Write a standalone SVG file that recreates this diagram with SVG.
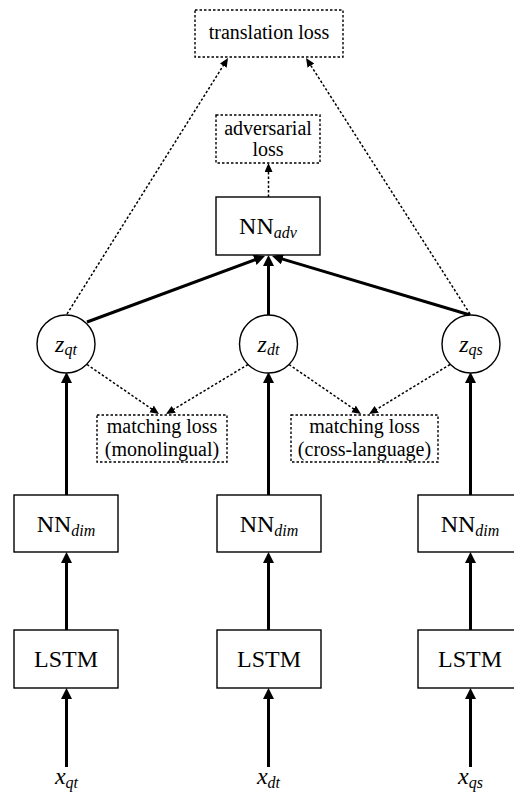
<svg xmlns="http://www.w3.org/2000/svg" width="514" height="793" viewBox="0 0 514 793">
<style>
.box{fill:#fff;stroke:#000;stroke-width:1.4}
.dbox{fill:#fff;stroke:#000;stroke-width:1.4;stroke-dasharray:2.5 2}
.t{font-family:"Liberation Serif","Times New Roman",serif;fill:#000;text-anchor:middle}
.big{font-size:24px}
.mid{font-size:20px}
.it{font-style:italic}
.sub{font-size:16px;font-style:italic}
.thick{stroke:#000;stroke-width:3;fill:none}
.dot{stroke:#000;stroke-width:1.5;fill:none;stroke-dasharray:2.5 2}
</style>
<defs>
<marker id="ah" markerUnits="userSpaceOnUse" markerWidth="12" markerHeight="12" refX="6" refY="5.5" orient="auto">
<path d="M0,0 L11,5.5 L0,11 z" fill="#000"/>
</marker>
<marker id="ahd" markerUnits="userSpaceOnUse" markerWidth="10" markerHeight="10" refX="5" refY="4" orient="auto">
<path d="M0,0 L9,4 L0,8 z" fill="#000"/>
</marker>
</defs>
<rect width="514" height="793" fill="#fff"/>
<g id="connectors">
<line class="thick" x1="66.5" y1="767" x2="66.5" y2="693" marker-end="url(#ah)"/>
<line class="thick" x1="268.5" y1="767" x2="268.5" y2="693" marker-end="url(#ah)"/>
<line class="thick" x1="470.5" y1="767" x2="470.5" y2="693" marker-end="url(#ah)"/>
<line class="thick" x1="66.5" y1="630" x2="66.5" y2="557" marker-end="url(#ah)"/>
<line class="thick" x1="268.5" y1="630" x2="268.5" y2="557" marker-end="url(#ah)"/>
<line class="thick" x1="470.5" y1="630" x2="470.5" y2="557" marker-end="url(#ah)"/>
<line class="thick" x1="66.5" y1="495" x2="66.5" y2="377" marker-end="url(#ah)"/>
<line class="thick" x1="268.5" y1="495" x2="268.5" y2="377" marker-end="url(#ah)"/>
<line class="thick" x1="470.5" y1="495" x2="470.5" y2="377" marker-end="url(#ah)"/>
<line class="thick" x1="268.5" y1="315" x2="268.5" y2="260" marker-end="url(#ah)"/>
<line class="thick" x1="87" y1="322" x2="260.3" y2="257.7" marker-end="url(#ah)"/>
<line class="thick" x1="470" y1="315" x2="276.8" y2="257.4" marker-end="url(#ah)"/>
<line class="dot" x1="67" y1="314" x2="225.9" y2="61.4" marker-end="url(#ahd)"/>
<line class="dot" x1="470" y1="314" x2="308.2" y2="61.4" marker-end="url(#ahd)"/>
<line class="dot" x1="268.5" y1="197" x2="268.5" y2="167" marker-end="url(#ahd)"/>
<line class="dot" x1="87" y1="364.5" x2="155.7" y2="411.7" marker-end="url(#ahd)"/>
<line class="dot" x1="248" y1="364.5" x2="169.4" y2="411.9" marker-end="url(#ahd)"/>
<line class="dot" x1="289" y1="364.5" x2="357.7" y2="411.7" marker-end="url(#ahd)"/>
<line class="dot" x1="450" y1="364.5" x2="372.4" y2="411.9" marker-end="url(#ahd)"/>
</g>
<g id="translation-loss">
<rect class="dbox" x="195" y="10" width="148" height="47"/>
<text class="t mid" x="269" y="39">translation loss</text>
</g>
<g id="adversarial-loss">
<rect class="dbox" x="216" y="115" width="104" height="48"/>
<text class="t mid" x="268" y="135">adversarial</text>
<text class="t mid" x="268" y="156">loss</text>
</g>
<g id="nn-adv">
<rect class="box" x="216" y="197" width="104" height="58"/>
<text class="t big" x="268" y="234">NN<tspan class="sub" dy="4">adv</tspan></text>
</g>
<g id="z-qt">
<circle class="box" cx="66" cy="344" r="29"/>
<text class="t big it" x="66" y="352">z<tspan class="sub" dy="3">qt</tspan></text>
</g>
<g id="z-dt">
<circle class="box" cx="268.5" cy="344" r="29"/>
<text class="t big it" x="268.5" y="352">z<tspan class="sub" dy="3">dt</tspan></text>
</g>
<g id="z-qs">
<circle class="box" cx="471" cy="344" r="29"/>
<text class="t big it" x="471" y="352">z<tspan class="sub" dy="3">qs</tspan></text>
</g>
<g id="matching-mono">
<rect class="dbox" x="97" y="415" width="130" height="47"/>
<text class="t mid" x="162" y="433">matching loss</text>
<text class="t mid" x="162" y="456">(monolingual)</text>
</g>
<g id="matching-cross">
<rect class="dbox" x="291" y="415" width="147" height="47"/>
<text class="t mid" x="364.5" y="433">matching loss</text>
<text class="t mid" x="364.5" y="456">(cross-language)</text>
</g>
<g id="nn-dim-1">
<rect class="box" x="14" y="495" width="104" height="57"/>
<text class="t big" x="66" y="532">NN<tspan class="sub" dy="4">dim</tspan></text>
</g>
<g id="nn-dim-2">
<rect class="box" x="217" y="495" width="104" height="57"/>
<text class="t big" x="269" y="532">NN<tspan class="sub" dy="4">dim</tspan></text>
</g>
<g id="nn-dim-3">
<rect class="box" x="418" y="495" width="104" height="57"/>
<text class="t big" x="470" y="532">NN<tspan class="sub" dy="4">dim</tspan></text>
</g>
<g id="lstm-1">
<rect class="box" x="14" y="630" width="104" height="58"/>
<text class="t big" x="66" y="667">LSTM</text>
</g>
<g id="lstm-2">
<rect class="box" x="217" y="630" width="104" height="58"/>
<text class="t big" x="269" y="667">LSTM</text>
</g>
<g id="lstm-3">
<rect class="box" x="418" y="630" width="104" height="58"/>
<text class="t big" x="470" y="667">LSTM</text>
</g>
<g id="x-qt">
<text class="t big it" x="66.5" y="784">x<tspan class="sub" dy="4">qt</tspan></text>
</g>
<g id="x-dt">
<text class="t big it" x="268.5" y="784">x<tspan class="sub" dy="4">dt</tspan></text>
</g>
<g id="x-qs">
<text class="t big it" x="470.5" y="784">x<tspan class="sub" dy="4">qs</tspan></text>
</g>
</svg>
